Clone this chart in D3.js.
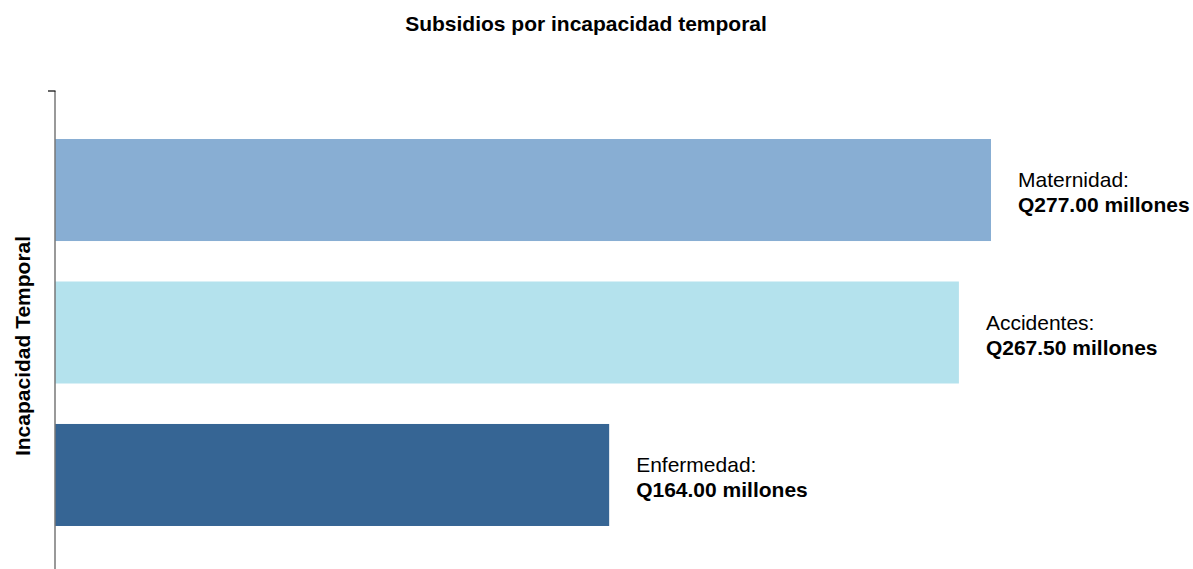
<!DOCTYPE html>
<html><head><meta charset="utf-8">
<script src="https://cdn.jsdelivr.net/npm/d3@7"></script>
<style>body{margin:0;background:#fff}svg{display:block;font-family:"Liberation Sans",Arial,Helvetica,sans-serif}</style>
</head><body><svg id="c" width="1193" height="569"></svg>
<script>
const categories = ["Maternidad", "Accidentes", "Enfermedad"];
const values = [277.00, 267.50, 164.00];
const colors = ["#88aed3", "#b4e2ed", "#366594"];
const title = "Subsidios por incapacidad temporal";
const yTitle = "Incapacidad Temporal";

const svg = d3.select("#c");
const x = d3.scaleLinear().domain([0, 277]).range([55, 991]);
const y = d3.scaleBand().domain(categories).range([91, 574]).paddingInner(0.284).paddingOuter(0.337);

svg.append("text").attr("x", 586).attr("y", 31).attr("text-anchor", "middle")
  .attr("font-weight", "bold").attr("font-size", 21).text(title);

svg.append("text").attr("transform", "translate(30,346) rotate(-90)").attr("text-anchor", "middle")
  .attr("font-weight", "bold").attr("font-size", 21).text(yTitle);

const data = categories.map((c, i) => ({c, v: values[i], col: colors[i]}));

svg.selectAll("rect.bar").data(data).join("rect").attr("class", "bar")
  .attr("x", x(0)).attr("y", d => y(d.c)).attr("width", d => x(d.v) - x(0))
  .attr("height", y.bandwidth()).attr("fill", d => d.col);

// axis line
svg.append("line").attr("x1", 55).attr("x2", 55).attr("y1", 91).attr("y2", 569)
  .attr("stroke", "#777").attr("stroke-width", 1.5);
svg.append("line").attr("x1", 48).attr("x2", 55.5).attr("y1", 91).attr("y2", 91)
  .attr("stroke", "#000").attr("stroke-width", 1.2);

const lab = svg.selectAll("g.lab").data(data).join("g").attr("class", "lab")
  .attr("transform", d => `translate(${x(d.v) + 27},${y(d.c) + y.bandwidth() / 2})`);
lab.append("text").attr("font-size", 21).attr("y", -3).text(d => d.c + ":");
lab.append("text").attr("font-size", 21).attr("font-weight", "bold").attr("y", 22)
  .text(d => "Q" + d.v.toFixed(2) + " millones");
</script></body></html>
